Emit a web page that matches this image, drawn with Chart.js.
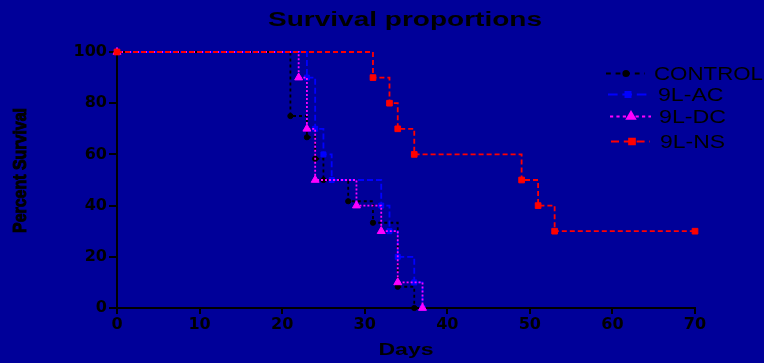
<!DOCTYPE html>
<html>
<head>
<meta charset="utf-8">
<script src="https://cdn.jsdelivr.net/npm/chart.js@4/dist/chart.umd.min.js"></script>
<style>
  html, body { margin: 0; padding: 0; background: #000099; }
  canvas { display: block; }
</style>
</head>
<body>
<canvas id="c" width="764" height="363"></canvas>
<script>
// ---- data ----
const seriesNames = ['CONTROL', '9L-AC', '9L-DC', '9L-NS'];

const controlDays = [0, 21, 23, 24, 25, 28, 31, 34, 36];
const controlSurv = [100, 75, 66.7, 58.3, 50, 41.7, 33.3, 8.3, 0];

const acDays = [0, 23, 24, 25, 26, 32, 33, 34, 36, 37];
const acSurv = [100, 90, 70, 60, 50, 40, 30, 20, 10, 0];

const dcDays = [0, 22, 23, 24, 29, 32, 34, 37];
const dcSurv = [100, 90, 70, 50, 40, 30, 10, 0];

const nsDays = [0, 31, 33, 34, 36, 49, 51, 53, 70];
const nsSurv = [100, 90, 80, 70, 60, 50, 40, 30, 30];

const xTicks = [0, 10, 20, 30, 40, 50, 60, 70];
const yTicks = [0, 20, 40, 60, 80, 100];

const titleText = 'Survival proportions';
const xTitle = 'Days';
const yTitle = 'Percent Survival';

// ---- styles ----
const styles = [
  { color: '#000000', dash: [3, 3], point: 'circle', radius: 2.6 },
  { color: '#0000ff', dash: [6, 3], point: 'rect', radius: 3.5 },
  { color: '#ff00ff', dash: [2, 2], point: 'triangle', radius: 4.6 },
  { color: '#ff0000', dash: [5, 3], point: 'rect', radius: 4.0 }
];

const toPts = (xs, ys) => xs.map((x, i) => ({ x: x, y: ys[i] }));
const seriesData = [toPts(controlDays, controlSurv), toPts(acDays, acSurv), toPts(dcDays, dcSurv), toPts(nsDays, nsSurv)];

const datasets = seriesData.map((d, i) => ({
  label: seriesNames[i],
  data: d,
  stepped: true,
  borderColor: styles[i].color,
  backgroundColor: styles[i].color,
  borderWidth: 1.8,
  borderDash: styles[i].dash,
  pointStyle: styles[i].point,
  pointRadius: styles[i].radius,
  pointBackgroundColor: styles[i].color,
  pointBorderColor: styles[i].color,
  pointBorderWidth: 1,
  fill: false,
  clip: 8,
  order: 4 - i
}));

function drawStretched(ctx, text, x, y, font, width, align, stroke) {
  ctx.save();
  ctx.font = font;
  const w = ctx.measureText(text).width;
  const sx = width / w;
  ctx.translate(x, y);
  ctx.scale(sx, 1);
  ctx.textAlign = align;
  ctx.fillText(text, 0, 0);
  if (stroke) {
    ctx.strokeStyle = ctx.fillStyle;
    ctx.lineWidth = stroke;
    ctx.strokeText(text, 0, 0);
  }
  ctx.restore();
}

const overlay = {
  id: 'overlay',
  beforeDraw(chart) {
    const ctx = chart.ctx;
    ctx.save();
    ctx.fillStyle = '#000099';
    ctx.fillRect(0, 0, chart.width, chart.height);
    ctx.restore();
  },
  afterDraw(chart) {
    const ctx = chart.ctx;
    ctx.save();
    ctx.fillStyle = '#000000';
    ctx.textBaseline = 'alphabetic';
    // title
    drawStretched(ctx, titleText, 405, 26, 'bold 20px "Liberation Sans", Arial, sans-serif', 274, 'center');
    // x title
    drawStretched(ctx, xTitle, 406, 355, 'bold 16px "Liberation Sans", Arial, sans-serif', 55, 'center');
    // y title (rotated)
    ctx.save();
    ctx.translate(21, 170.5);
    ctx.rotate(-Math.PI / 2);
    ctx.textBaseline = 'middle';
    drawStretched(ctx, yTitle, 0, 0, 'bold 19px "Liberation Sans", Arial, sans-serif', 125, 'center', 1);
    ctx.restore();

    // legend
    const items = [
      { y: 73.5, x0: 606, x1: 645, m: 626, tx: 654, tw: 109, base: 80 },
      { y: 94.5, x0: 608, x1: 647, m: 628, tx: 658, tw: 65.5, base: 100.7 },
      { y: 116.5, x0: 610, x1: 651, m: 631, tx: 659, tw: 67, base: 123.3 },
      { y: 141.5, x0: 611, x1: 650, m: 632, tx: 660, tw: 65, base: 147.7 }
    ];
    items.forEach((it, i) => {
      const s = styles[i];
      ctx.save();
      ctx.strokeStyle = s.color;
      ctx.lineWidth = 2;
      ctx.setLineDash(s.dash.map(v => v * 1.6));
      ctx.beginPath();
      ctx.moveTo(it.x0, it.y);
      ctx.lineTo(it.x1, it.y);
      ctx.stroke();
      ctx.setLineDash([]);
      ctx.fillStyle = s.color;
      Chart.helpers.drawPoint(ctx, { pointStyle: s.point, radius: s.radius, borderWidth: 1, rotation: 0 }, it.m, it.y);
      ctx.fill();
      ctx.restore();
      ctx.fillStyle = '#000000';
      drawStretched(ctx, seriesNames[i], it.tx, it.base, '18px "Liberation Sans", Arial, sans-serif', it.tw, 'left');
    });
    ctx.restore();
  }
};

const tickFont = { family: '"DejaVu Sans", sans-serif', weight: 'bold', size: 16 };

new Chart(document.getElementById('c'), {
  type: 'line',
  data: { datasets: datasets },
  options: {
    responsive: false,
    animation: false,
    events: [],
    layout: { padding: { top: 52, right: 69, left: 0, bottom: 0 } },
    plugins: { legend: { display: false }, title: { display: false }, tooltip: { enabled: false } },
    scales: {
      x: {
        type: 'linear', min: 0, max: 70,
        afterBuildTicks(s) { s.ticks = xTicks.map(v => ({ value: v })); },
        ticks: { color: '#000', font: tickFont, padding: 1, maxRotation: 0, autoSkip: false },
        grid: { drawOnChartArea: false, drawTicks: true, tickLength: 6, color: '#000', lineWidth: 2 },
        border: { display: true, color: '#000', width: 2 },
        afterFit(s) { s.height = 55; }
      },
      y: {
        type: 'linear', min: 0, max: 100,
        afterBuildTicks(s) { s.ticks = yTicks.map(v => ({ value: v })); },
        ticks: { color: '#000', font: tickFont, padding: 2, autoSkip: false },
        grid: { drawOnChartArea: false, drawTicks: true, tickLength: 8, color: '#000', lineWidth: 2 },
        border: { display: true, color: '#000', width: 2 },
        afterFit(s) { s.width = 117; }
      }
    }
  },
  plugins: [overlay]
});
</script>
</body>
</html>
